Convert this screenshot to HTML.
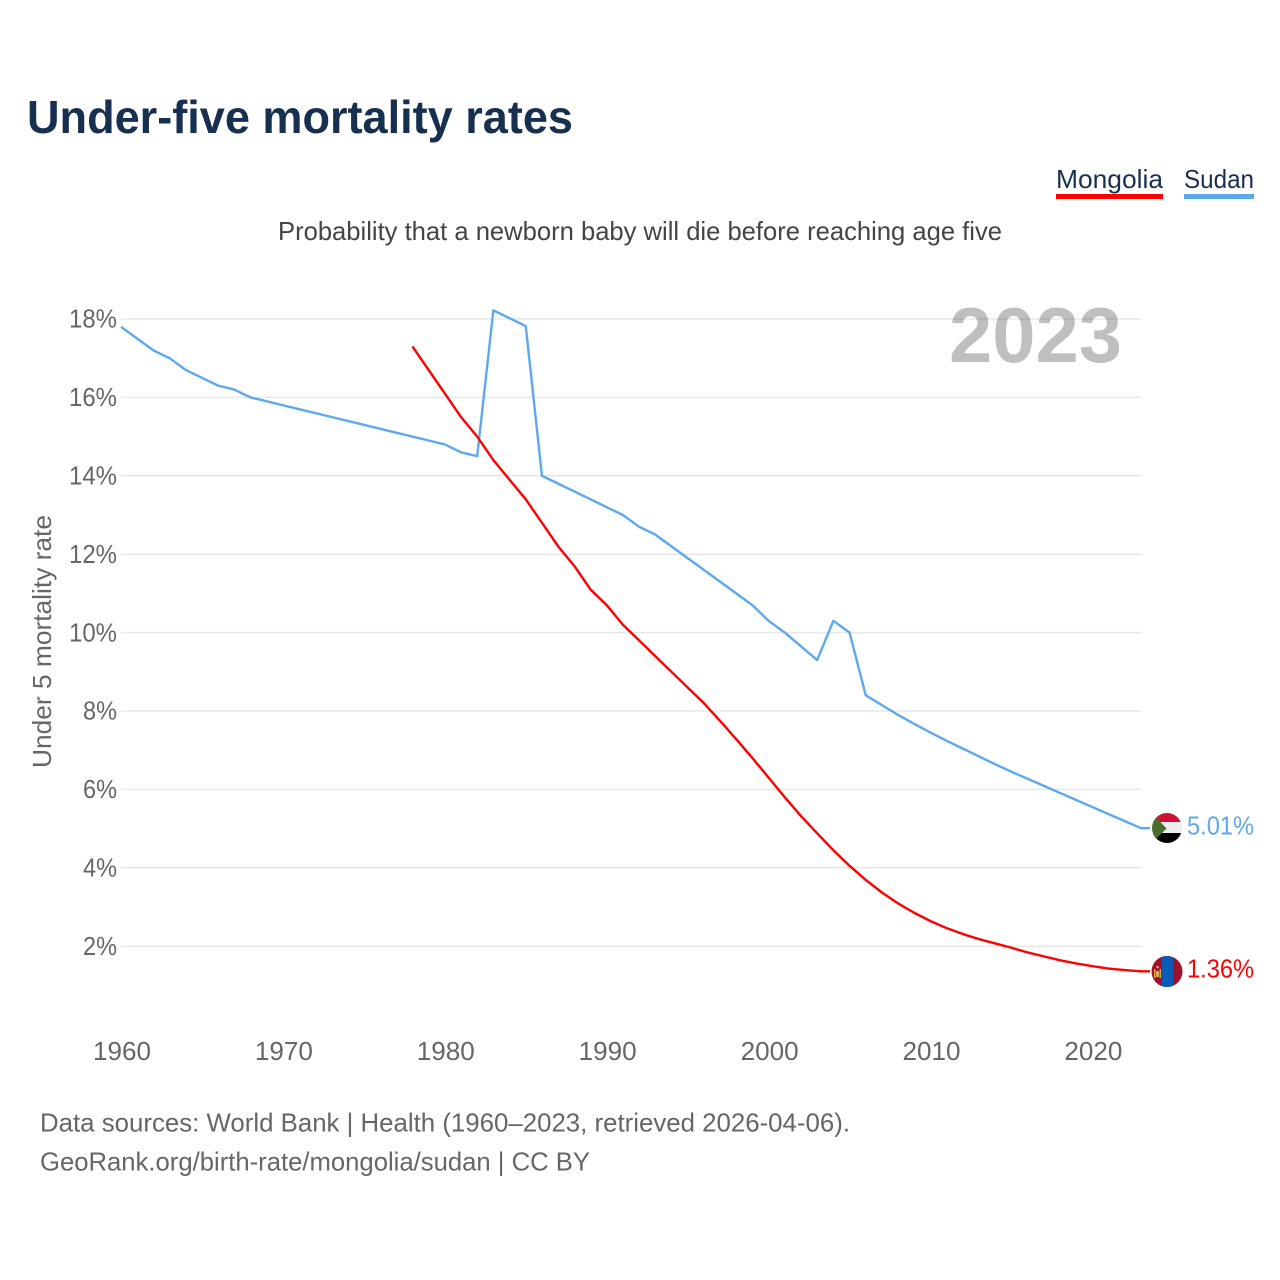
<!DOCTYPE html>
<html>
<head>
<meta charset="utf-8">
<title>Under-five mortality rates</title>
<style>
html,body{margin:0;padding:0;background:#fff;}
svg{display:block;font-family:"Liberation Sans",sans-serif;}
</style>
</head>
<body>
<svg id="chart" xmlns="http://www.w3.org/2000/svg" width="1280" height="1280" viewBox="0 0 1280 1280">
  <rect x="0" y="0" width="1280" height="1280" fill="#ffffff"/>
  <text x="27" y="133" font-size="46" font-weight="700" fill="#18304f" textLength="546" lengthAdjust="spacingAndGlyphs">Under-five mortality rates</text>

  <g>
    <text x="1056" y="188" font-size="26" fill="#18304f" textLength="107" lengthAdjust="spacingAndGlyphs">Mongolia</text>
    <rect x="1056" y="194" width="107" height="5" fill="#ff0000"/>
  </g>
  <g>
    <text x="1184" y="188" font-size="26" fill="#18304f" textLength="70" lengthAdjust="spacingAndGlyphs">Sudan</text>
    <rect x="1184" y="194" width="70" height="5" fill="#5ea9ee"/>
  </g>

  <text x="278" y="240" font-size="26" fill="#444444" textLength="724" lengthAdjust="spacingAndGlyphs">Probability that a newborn baby will die before reaching age five</text>
  <text transform="translate(51,768) rotate(-90)" font-size="26" fill="#666666" textLength="253" lengthAdjust="spacingAndGlyphs">Under 5 mortality rate</text>

  <g id="grid"></g>
  <g id="yticks"></g>
  <g id="xticks"></g>

  <text x="949" y="362" font-size="78" font-weight="700" fill="#000000" fill-opacity="0.25" textLength="173" lengthAdjust="spacingAndGlyphs">2023</text>

  <g id="series"></g>

  <defs>
    <clipPath id="clip-sudan"><circle cx="1167" cy="828" r="15"/></clipPath>
    <clipPath id="clip-mongolia"><circle cx="1167" cy="971.5" r="15.5"/></clipPath>
  </defs>

  <g clip-path="url(#clip-sudan)">
    <rect x="1152" y="813" width="30" height="9" fill="#d21034"/>
    <rect x="1152" y="822" width="30" height="11" fill="#eeeeee"/>
    <rect x="1152" y="833" width="30" height="10" fill="#000000"/>
    <polygon points="1151,812 1166.5,828.5 1151,844" fill="#496e2d"/>
  </g>
  <g clip-path="url(#clip-mongolia)">
    <rect x="1151" y="956" width="32" height="31" fill="#a0112c"/>
    <rect x="1162" y="956" width="11" height="31" fill="#0a5cb5"/>
    <rect x="1154" y="969" width="1.5" height="9" fill="#d9ad4a"/>
    <rect x="1159.5" y="969" width="1.5" height="9" fill="#d9ad4a"/>
    <rect x="1156" y="971" width="3" height="6" fill="#d9ad4a"/>
    <circle cx="1157.5" cy="967" r="1.3" fill="#d9ad4a"/>
  </g>

  <text x="1187" y="834.5" font-size="26" fill="#5ea9ee" textLength="67" lengthAdjust="spacingAndGlyphs">5.01%</text>
  <text x="1187" y="977.5" font-size="26" fill="#ff0000" textLength="67" lengthAdjust="spacingAndGlyphs">1.36%</text>

  <text x="40" y="1131.5" font-size="26" fill="#666666" textLength="810" lengthAdjust="spacingAndGlyphs">Data sources: World Bank | Health (1960–2023, retrieved 2026-04-06).</text>
  <text x="40" y="1170.5" font-size="26" fill="#666666" textLength="550" lengthAdjust="spacingAndGlyphs">GeoRank.org/birth-rate/mongolia/sudan | CC BY</text>
</svg>
<script>
var yTickValues = [2, 4, 6, 8, 10, 12, 14, 16, 18];
var xTickValues = [1960, 1970, 1980, 1990, 2000, 2010, 2020];
var sudanStartYear = 1960;
var sudanValues = [17.8, 17.5, 17.2, 17.0, 16.7, 16.5, 16.3, 16.2, 16.0, 15.9,
  15.8, 15.7, 15.6, 15.5, 15.4, 15.3, 15.2, 15.1, 15.0, 14.9,
  14.8, 14.6, 14.5, 18.22, 18.02, 17.82, 14.0, 13.8, 13.6, 13.4,
  13.2, 13.0, 12.7, 12.5, 12.2, 11.9, 11.6, 11.3, 11.0, 10.7,
  10.3, 10.0, 9.65, 9.3, 10.3, 10.0, 8.4, 8.15, 7.9, 7.67,
  7.45, 7.24, 7.04, 6.84, 6.64, 6.45, 6.27, 6.09, 5.91, 5.73,
  5.55, 5.37, 5.19, 5.01];
var mongoliaStartYear = 1978;
var mongoliaValues = [17.3, 16.7, 16.1, 15.5, 15.0, 14.4, 13.9, 13.4, 12.8, 12.2,
  11.7, 11.1, 10.7, 10.2, 9.8, 9.4, 9.0, 8.6, 8.2, 7.75,
  7.28, 6.8, 6.3, 5.8, 5.32, 4.88, 4.45, 4.05, 3.69, 3.37,
  3.09, 2.85, 2.64, 2.46, 2.31, 2.18, 2.07, 1.96, 1.84, 1.74,
  1.64, 1.56, 1.49, 1.43, 1.39, 1.36];

var NS = 'http://www.w3.org/2000/svg';
function xScale(year) { return 121 + (year - 1960) * 16.19; }
function yScale(v) { return 1024.6 - v * 39.2; }

function make(tag, attrs, parent) {
  var el = document.createElementNS(NS, tag);
  for (var k in attrs) { el.setAttribute(k, attrs[k]); }
  parent.appendChild(el);
  return el;
}

var gridG = document.getElementById('grid');
var yG = document.getElementById('yticks');
var xG = document.getElementById('xticks');
var seriesG = document.getElementById('series');

yTickValues.forEach(function (v) {
  var line = make('line', { x1: 121, x2: 1142, y1: yScale(v), y2: yScale(v), stroke: '#e8e8e8', 'stroke-width': 1.5 }, gridG);
  
  
  var t = make('text', {
    x: 117, y: yScale(v) + 8.7, 'text-anchor': 'end', 'font-size': 26, fill: '#666666',
    textLength: v >= 10 ? 48 : 34, lengthAdjust: 'spacingAndGlyphs'
  }, yG);
  t.textContent = v + '%';
  
  
});

xTickValues.forEach(function (y) {
  var t = make('text', {
    x: xScale(y) + 1, y: 1060, 'text-anchor': 'middle', 'font-size': 26, fill: '#666666',
    textLength: 58, lengthAdjust: 'spacingAndGlyphs'
  }, xG);
  t.textContent = String(y);
  
  
});

function pointsFor(startYear, values) {
  return values.map(function (v, i) {
    return xScale(startYear + i).toFixed(2) + ',' + yScale(v).toFixed(2);
  });
}

function drawSeries(startYear, values, color) {
  var pts = pointsFor(startYear, values);
  var lastY = yScale(values[values.length - 1]).toFixed(2);
  pts.push('1150,' + lastY);
  return make('polyline', {
    points: pts.join(' '), fill: 'none', stroke: color,
    'stroke-width': 2.4, 'stroke-linejoin': 'round'
  }, seriesG);
}

var sudanLine = drawSeries(sudanStartYear, sudanValues, '#5ea9ee');



var mongoliaLine = drawSeries(mongoliaStartYear, mongoliaValues, '#ff0000');


</script>
</body>
</html>
